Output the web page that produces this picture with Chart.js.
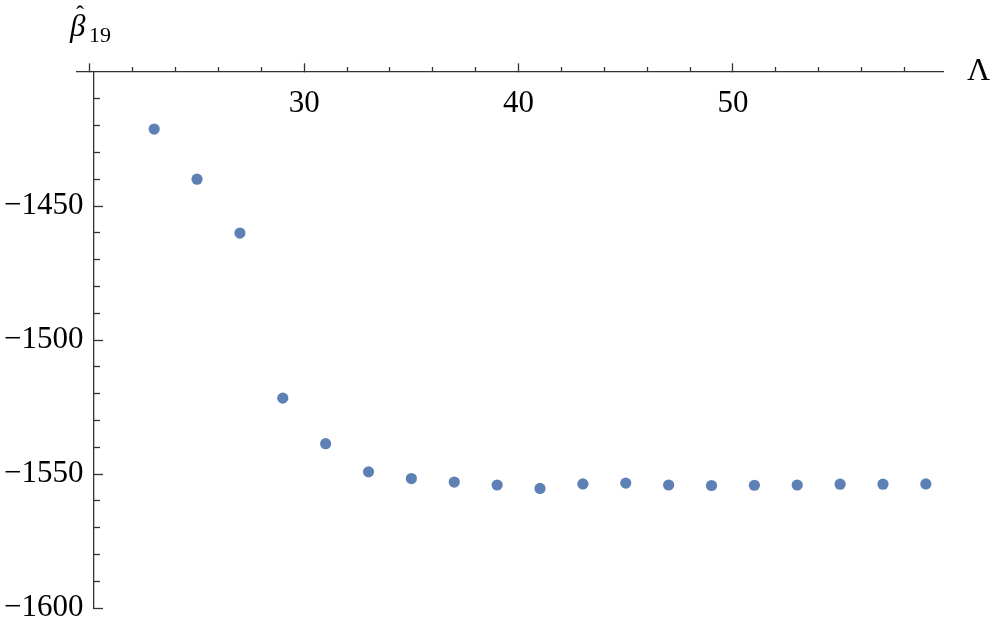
<!DOCTYPE html>
<html>
<head>
<meta charset="utf-8">
<title>beta19 vs Lambda</title>
<script src="https://cdn.jsdelivr.net/npm/chart.js@4.4.0/dist/chart.umd.min.js"></script>
<style>
  html, body { margin: 0; padding: 0; background: #fff; }
  #wrap { width: 997px; height: 632px; }
</style>
</head>
<body>
<div id="wrap"><canvas id="betaChart" width="997" height="632"></canvas></div>
<script>
// values
const lambdas = [23, 25, 27, 29, 31, 33, 35, 37, 39, 41, 43, 45, 47, 49, 51, 53, 55, 57, 59];
const beta19 = [-1421.3, -1440.0, -1460.1, -1521.7, -1538.7, -1549.2, -1551.7, -1553.0, -1554.1, -1555.4,
  -1553.7, -1553.4, -1554.1, -1554.3, -1554.2, -1554.1, -1553.8, -1553.8, -1553.7];

// ticks
const xMajorTicks = [20, 30, 40, 50];
const xMinorTicks = [22, 24, 26, 28, 32, 34, 36, 38, 42, 44, 46, 48, 52, 54, 56, 58];
const xHiddenLabels = [20];
const yMajorTicks = [-1450, -1500, -1550, -1600];
const yMinorTicks = [-1410, -1420, -1430, -1440, -1460, -1470, -1480, -1490, -1510, -1520, -1530, -1540,
  -1560, -1570, -1580, -1590];

const xMin = 19.4, xMax = 59.8;
const yMin = -1600, yMax = -1400;
const yAxisAt = 20.2;    // where the vertical axis crosses
const yLabelsAt = 19.7;  // right edge of the y tick labels
const xAxisAt = -1400;   // where the horizontal axis crosses

const axisColor = '#333333';
const pointColor = '#5E81B5';
const tickFont = { family: '"Liberation Serif", "Times New Roman", serif', size: 31 };

const minus = (v) => String(v).replace('-', '\u2212');

const axisLabels = {
  id: 'axisLabels',
  afterDraw(chart) {
    const { ctx, chartArea, scales } = chart;
    const axisY = scales.y.getPixelForValue(xAxisAt);
    ctx.save();
    ctx.fillStyle = '#000';
    ctx.textBaseline = 'alphabetic';
    ctx.textAlign = 'left';
    ctx.font = '32px "Liberation Serif"';
    ctx.fillText('Λ', chartArea.right + 24, axisY + 8);
    ctx.font = 'italic 31px "Liberation Serif"';
    ctx.fillText('β', 70, 36);
    ctx.font = '24px "Liberation Serif"';
    ctx.textAlign = 'center';
    ctx.fillText('ˆ', 80, 22);
    ctx.textAlign = 'left';
    ctx.font = '22px "Liberation Serif"';
    ctx.fillText('19', 89, 41.5);
    ctx.restore();
  }
};

const setTicks = (list) => (scale) => {
  scale.ticks = list.map(v => ({ value: v }));
};

const ctx = document.getElementById('betaChart').getContext('2d');
new Chart(ctx, {
  type: 'scatter',
  data: {
    datasets: [{
      label: 'beta19',
      data: lambdas.map((l, i) => ({ x: l, y: beta19[i] })),
      backgroundColor: pointColor,
      borderWidth: 0,
      pointRadius: 5.6,
      pointHoverRadius: 5.6,
      xAxisID: 'x',
      yAxisID: 'y'
    }]
  },
  options: {
    responsive: false,
    animation: false,
    devicePixelRatio: 1,
    layout: { padding: { left: 77, right: 54, top: 72, bottom: 24 } },
    plugins: { legend: { display: false }, tooltip: { enabled: false } },
    scales: {
      x: {
        type: 'linear',
        min: xMin, max: xMax,
        position: { y: xAxisAt },
        afterBuildTicks: setTicks(xMajorTicks),
        border: { display: true, color: axisColor, width: 1.3 },
        grid: { drawOnChartArea: false, drawTicks: true, tickLength: -9, tickWidth: 1.3, tickColor: axisColor },
        ticks: {
          font: tickFont, color: '#000', padding: 22, maxRotation: 0, autoSkip: false,
          callback: (v) => xHiddenLabels.includes(v) ? '' : String(v)
        }
      },
      xMinor: {
        type: 'linear',
        axis: 'x',
        min: xMin, max: xMax,
        position: { y: xAxisAt },
        afterBuildTicks: setTicks(xMinorTicks),
        border: { display: false },
        grid: { drawOnChartArea: false, drawTicks: true, tickLength: -5, tickWidth: 1.3, tickColor: axisColor },
        ticks: { display: false }
      },
      y: {
        type: 'linear',
        min: yMin, max: yMax,
        position: { x: yAxisAt },
        afterBuildTicks: setTicks(yMajorTicks),
        border: { display: true, color: axisColor, width: 1.3 },
        grid: { drawOnChartArea: false, drawTicks: true, tickLength: -10, tickWidth: 1.3, tickColor: axisColor },
        ticks: { display: false }
      },
      yLabels: {
        type: 'linear',
        axis: 'y',
        min: yMin, max: yMax,
        position: { x: yLabelsAt },
        afterBuildTicks: setTicks(yMajorTicks),
        border: { display: false },
        grid: { display: false, drawOnChartArea: false, drawTicks: false },
        ticks: {
          font: tickFont, color: '#000', padding: 0, autoSkip: false,
          callback: (v) => minus(v)
        }
      },
      yMinor: {
        type: 'linear',
        axis: 'y',
        min: yMin, max: yMax,
        position: { x: yAxisAt },
        afterBuildTicks: setTicks(yMinorTicks),
        border: { display: false },
        grid: { drawOnChartArea: false, drawTicks: true, tickLength: -6, tickWidth: 1.3, tickColor: axisColor },
        ticks: { display: false }
      }
    }
  },
  plugins: [axisLabels]
});
</script>
</body>
</html>
